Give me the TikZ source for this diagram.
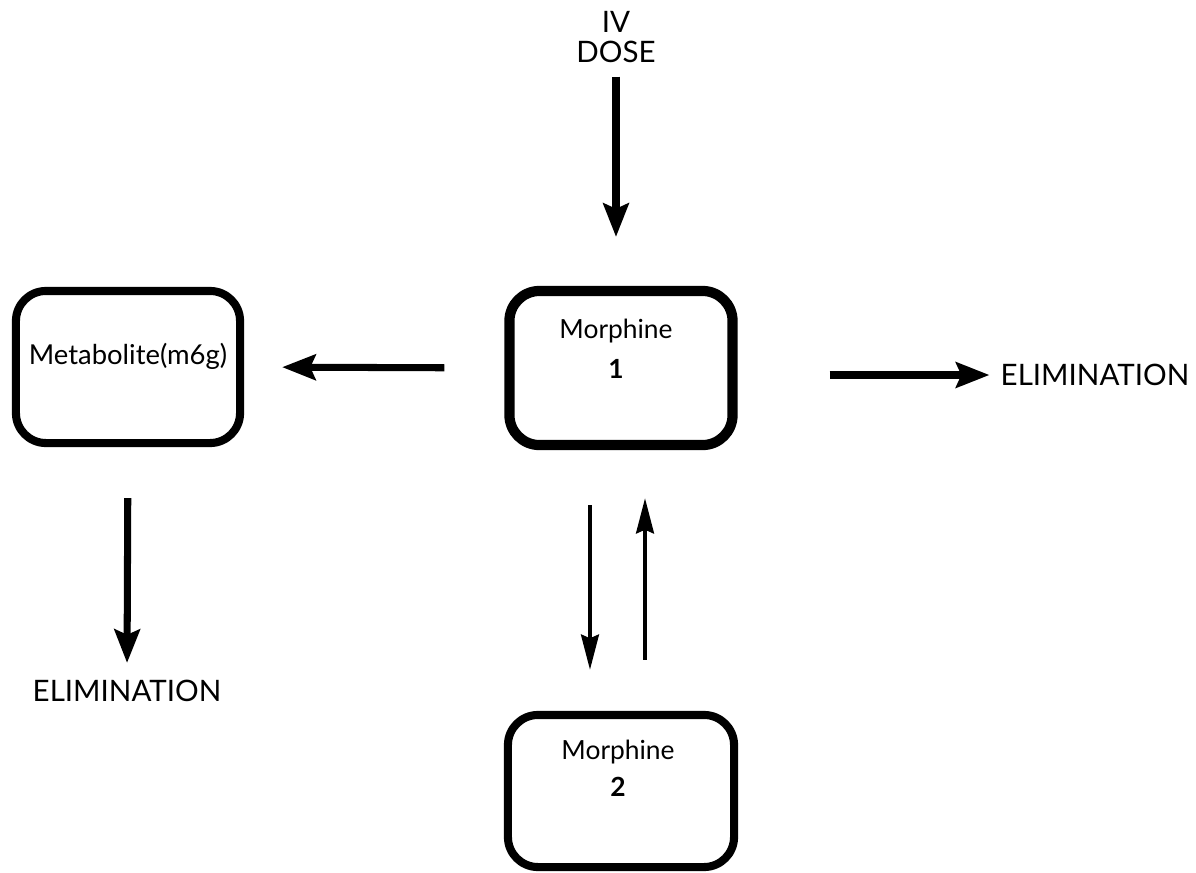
\documentclass[tikz,border=0pt]{standalone}
\usepackage{fontspec}
\setmainfont{Lato}
\usetikzlibrary{positioning,arrows.meta}

\begin{document}
\begin{tikzpicture}[x=0.01cm,y=-0.01cm,
    box/.style={draw,rounded corners=3mm,line width=2.3pt,minimum width=2.24cm,
      minimum height=1.52cm,outer sep=0pt,inner sep=0pt},
    lbl/.style={inner sep=1pt,align=center,font=\fontsize{8.4}{10}\selectfont},
    boxlbl/.style={lbl,font=\fontsize{7.5}{9}\selectfont},
    flow/.style={line width=2pt,-{Stealth[length=9.5pt,width=7.2pt,inset=1.5pt]}},
    pair/.style={line width=1.3pt,-{Stealth[length=10pt,width=5pt,inset=1pt]}}]

  \useasboundingbox (0,0) rectangle (1196,872);

  % compartments
  \node[box,line width=2.9pt,minimum width=2.23cm,minimum height=1.54cm] (m1) at (621,368) {};
  \node[box] (met) at (128,367) {};
  \node[box,minimum width=2.26cm] (m2) at (621,791) {};

  % box texts
  \node[boxlbl,below=2.35mm of m1.north,xshift=-0.5mm] (m1txt) {Morphine\\[2.6pt]\textbf{1}};
  \node[boxlbl,below=2.05mm of m2.north,xshift=-0.3mm] (m2txt) {Morphine\\[1.6pt]\textbf{2}};
  \node[boxlbl,font=\fontsize{7.8}{9}\selectfont] (mettxt) at ([yshift=1.1mm]met.center) {Metabolite(m6g)};

  % free texts
  \node[lbl,font=\fontsize{8.4}{8.3}\selectfont] (dose) at (616,37) {IV\\DOSE};
  \node[lbl] (elim1) at (1095,375) {ELIMINATION};
  \node[lbl] (elim2) at (127,691) {ELIMINATION};

  % flows
  \draw[flow,shorten <=1mm,shorten >=5.4mm] (dose.south) -- (dose.south |- m1.north);
  \draw[flow,shorten <=6.5mm,shorten >=4.2mm] (m1.west) -- (met.east);
  \draw[flow,shorten <=9.7mm,shorten >=0.7mm] (elim1.west -| m1.east) -- (elim1.west);
  \draw[flow,shorten <=5.5mm,shorten >=1.3mm] (met.south) -- (elim2.north);

  % exchange between 1 and 2
  \draw[pair,shorten <=6mm,shorten >=4.5mm] ([xshift=-3.1mm]m1.south) -- ([xshift=-3.1mm]m2.north);
  \draw[pair,shorten <=5.5mm,shorten >=5.3mm] ([xshift=2.4mm]m2.north) -- ([xshift=2.4mm]m1.south);
\end{tikzpicture}
\end{document}
